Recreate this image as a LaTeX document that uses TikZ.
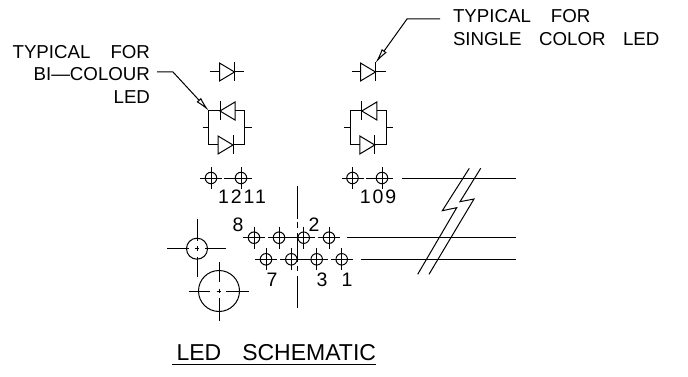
\documentclass[tikz,border=0pt]{standalone}
\usepackage{fontspec}
\setmainfont{Liberation Sans}
\usetikzlibrary{positioning, arrows.meta}
\tikzset{
every node/.style = {inner sep = 0pt, outer sep = 0pt},
wire/.style = {line width = 1pt},
pinhole/.style = {circle, draw, line width = 1pt, minimum size = 11.5pt},
hole/.style = {circle, draw, line width = 1pt},
leader/.style = {line width = 1pt, -{Latex[open, length = 15pt, width = 6pt]}},
lbl/.style = {font = \fontsize{19.5}{22}\selectfont},
heading/.style = {font = \fontsize{23}{26}\selectfont},
note/.style = {font = \fontsize{18.7}{22.5}\selectfont, align = left},
digit/.style = {font = \fontsize{19.5}{22}\selectfont\addfontfeature{LetterSpace=10}},
% one LED, the triangle points to the side of the bar
ledright/.pic = {
	\draw [wire] (-7.5, -9) -- (7.5, 0) -- (-7.5, 9) -- cycle;
	\draw [wire] (7.5, -9.5) -- (7.5, 9.5);},
ledleft/.pic = {
	\draw [wire] (7.5, -9) -- (-7.5, 0) -- (7.5, 9) -- cycle;
	\draw [wire] (-7.5, -9.5) -- (-7.5, 9.5);},
% the pair in parallel
bicolour/.pic = {
	\draw [wire] (-18, 0) -- (-18, -17) -- (-6.5, -17);
	\draw [wire] (8.5, -17) -- (18, -17) -- (18, 0);
	\draw [wire] (-18, 0) -- (-18, 17) -- (-8.5, 17);
	\draw [wire] (6.5, 17) -- (18, 17) -- (18, 0);
	\draw [wire] (-24, 0) -- (-18, 0);
	\draw [wire] (18, 0) -- (25, 0);
	\path (1, -17) pic {ledleft};
	\path (-1, 17) pic {ledright};},
pinmark/.pic = {
	\draw [wire] (-11, 0) -- (11, 0);
	\draw [wire] (0, -11) -- (0, 11);},
}
\begin{document}
\begin{tikzpicture}[x = 1pt, y = -1pt]
\useasboundingbox (0, 0) rectangle (688, 377);

%% Notes
\node at (150, 74) [note, anchor = east, align = right] (notebi) {TYPICAL\hspace{20pt}FOR\\BI---COLOUR\\LED};
\node at (453, 27.5) [note, anchor = west] (notesingle) {TYPICAL\hspace{20pt}FOR\\SINGLE\hspace{17.5pt}COLOR\hspace{17.5pt}LED};
\node at (276.3, 353) [heading] (title) {LED\hspace{21pt}SCHEMATIC};
\coordinate (ruleleft) at (172, 364);
\coordinate (ruleright) at (376, 364);
\draw [wire] (ruleleft) -- (ruleright);

%% LEDs
\path (227, 72) pic {ledright};
\draw [wire] (210, 72) -- (219.5, 72);
\draw [wire] (234.5, 72) -- (244, 72);
\path (368, 72) pic {ledright};
\draw [wire] (352, 72) -- (360.5, 72);
\draw [wire] (375.5, 72) -- (386, 72);
\path (226.5, 128) pic {bicolour};
\path (368.3, 128) pic {bicolour};

% The leaders
\coordinate (tipbi) at (209, 111);
\coordinate (tipsingle) at (375.5, 63);
\coordinate (startbi) at (157, 72);
\coordinate (startsingle) at (440, 19);
\draw [leader] (startbi) -- (173, 72) -- (tipbi);
\draw [leader] (startsingle) -- (407, 19) -- (tipsingle);

%% Pins
\foreach \name/\x/\y in {a/211/178, b/241/178, c/352.5/178, d/382/178,
	e/254/237.7, f/279/237.7, g/303.7/237.7, h/329/237.7,
	i/266/259.3, j/291.3/259.3, k/316.7/259.3, l/341.7/259.3}
	{\path (\x, \y) pic {pinmark};
	\node at (\x, \y) [pinhole] (pin\name) {};}
\draw [wire] (224, 178) -- (230, 178);
\draw [wire] (366, 178) -- (371, 178);

% The traces
\draw [wire] (401.5, 178) -- (516, 178);
\draw [wire] (347, 237.7) -- (516, 237.7);
\draw [wire] (360.5, 259.3) -- (516, 259.3);
\draw [wire] (pinf) -- (ping);
\draw [wire] (pinj) -- (pink);
\draw [wire] (297.3, 186) -- (297.3, 219);
\draw [wire] (297.3, 222) -- (297.3, 228);
\draw [wire] (297.3, 233) -- (297.3, 262);
\draw [wire] (297.3, 266) -- (297.3, 271);
\draw [wire] (297.3, 276) -- (297.3, 308);

% The break
\draw [wire] (469.3, 168.3) -- (442.3, 210.7) -- (456.7, 207.7) -- (417.7, 274.3);
\draw [wire] (480.7, 168.3) -- (460, 201.7) -- (474, 199) -- (429, 274.3);

%% Mounting holes
\node at (197, 248.7) [hole, minimum size = 21pt] (holea) {};
\node at (219, 291) [hole, minimum size = 41pt] (holeb) {};
\draw [wire] (167.3, 248.7) -- (189, 248.7);
\draw [wire] (194.7, 248.7) -- (199.3, 248.7);
\draw [wire] (205, 248.7) -- (226, 248.7);
\draw [wire] (197, 219.3) -- (197, 241);
\draw [wire] (197, 246.4) -- (197, 251);
\draw [wire] (197, 256.5) -- (197, 277.3);
\draw [wire] (189.3, 291) -- (210, 291);
\draw [wire] (216.8, 291) -- (221.2, 291);
\draw [wire] (226, 291) -- (249, 291);
\draw [wire] (219, 261.7) -- (219, 282);
\draw [wire] (219, 288.8) -- (219, 293.2);
\draw [wire] (219, 298) -- (219, 320.7);

%% Pin numbers
\node at (242, 197) [digit] (n1211) {1211};
\node at (378, 197) [digit] (n109) {109};
\node at (238, 225) [lbl] (n8) {8};
\node at (314, 225) [lbl] (n2) {2};
\node at (272, 280) [lbl] (n7) {7};
\node at (322, 280) [lbl] (n3) {3};
\node at (347, 280) [lbl] (n1) {1};

\end{tikzpicture}
\end{document}
